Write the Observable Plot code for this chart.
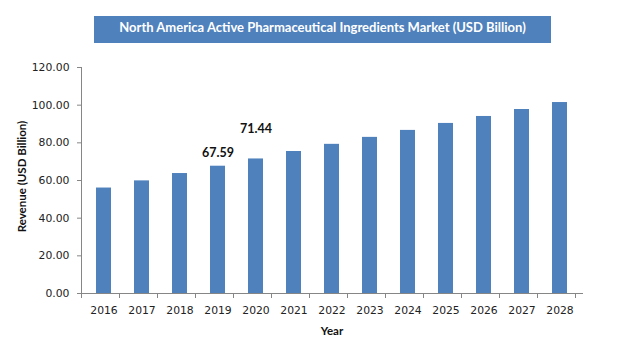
<!DOCTYPE html>
<html>
<head>
<meta charset="utf-8">
<script src="https://cdn.jsdelivr.net/npm/d3@7"></script>
<script src="https://cdn.jsdelivr.net/npm/@observablehq/plot@0.6"></script>
<style>
  html, body { margin: 0; padding: 0; background: #fff; }
  #wrap { width: 623px; height: 358px; position: relative; overflow: hidden; }
  #title {
    position: absolute; left: 94px; top: 16px; width: 457px; height: 27px;
    background: #4F81BD; color: #fff; font-family: Lato, sans-serif; font-weight: bold;
    font-size: 13px; text-align: center; line-height: 20px; box-sizing: border-box; padding-top: 1px;
  }
  #chart { position: absolute; left: 0; top: 43px; }
</style>
</head>
<body>
<div id="wrap">
  <div id="title">North America Active Pharmaceutical Ingredients Market (USD Billion)</div>
  <div id="chart"></div>
</div>
<script>
const years = ["2016","2017","2018","2019","2020","2021","2022","2023","2024","2025","2026","2027","2028"];
const revenue = [56.0, 59.8, 63.7, 67.59, 71.44, 75.4, 79.2, 82.9, 86.6, 90.3, 94.0, 97.7, 101.4];
const yTicks = [0, 20, 40, 60, 80, 100, 120];
const labelYearsNear = ["2019"];
const labelYearsFar = ["2020"];
const yLabel = "Revenue (USD Billion)";
const xLabel = "Year";

const data = years.map((y, i) => ({year: y, value: revenue[i]}));
const fmt = d3.format(".2f");
const axisColor = "#868686";

const chart = Plot.plot({
  width: 623,
  height: 315,
  marginLeft: 81,
  marginRight: 41,
  marginTop: 24,
  marginBottom: 65,
  style: {fontFamily: "'DejaVu Sans', sans-serif", fontSize: "10.8px", color: "#222", background: "#fff"},
  x: {domain: years, paddingInner: 0.6, paddingOuter: 0.3, label: null},
  y: {domain: [0, 120], label: null},
  marks: [
    Plot.barY(data, {x: "year", y: "value", fill: "#4F81BD"}),
    Plot.frame({anchor: "left", stroke: axisColor}),
    Plot.frame({anchor: "bottom", stroke: axisColor}),
    Plot.axisY({ticks: yTicks, tickFormat: fmt, tickSize: 4, tickPadding: 8, stroke: axisColor, label: null, fill: "#222"}),
    Plot.axisX({tickSize: 0, tickPadding: 13, label: null, fill: "#222"}),
    Plot.text(data.filter(d => labelYearsNear.includes(d.year)), {x: "year", y: "value", text: d => fmt(d.value), dy: -13, lineAnchor: "middle", fontWeight: "bold", fontFamily: "Lato, sans-serif", fontSize: 12.5, fill: "#111"}),
    Plot.text(data.filter(d => labelYearsFar.includes(d.year)), {x: "year", y: "value", text: d => fmt(d.value), dy: -30, lineAnchor: "middle", fontWeight: "bold", fontFamily: "Lato, sans-serif", fontSize: 12.5, fill: "#111"}),
    Plot.text([yLabel], {frameAnchor: "left", dx: -59, dy: -4, rotate: -90, lineAnchor: "middle", textAnchor: "middle", fontWeight: "bold", fontFamily: "Lato, sans-serif", fontSize: 11.5, fill: "#111"}),
    Plot.text([xLabel], {frameAnchor: "bottom", dy: 38, lineAnchor: "middle", textAnchor: "middle", fontWeight: "bold", fontFamily: "Lato, sans-serif", fontSize: 11.5, fill: "#111"})
  ]
});

// category boundary tick marks on the x axis, from the library's band scale
const xs = chart.scale("x");
const ys = chart.scale("y");
const step = xs.step;
const y0 = ys.apply(0);
const first = xs.range[0];
const edges = years.map((y, i) => first + i * step).concat([first + years.length * step]);
d3.select(chart).append("g").attr("stroke", axisColor)
  .selectAll("line").data(edges).join("line")
  .attr("x1", d => d + 0.5).attr("x2", d => d + 0.5)
  .attr("y1", y0).attr("y2", y0 + 5);

document.getElementById("chart").appendChild(chart);
</script>
</body>
</html>
